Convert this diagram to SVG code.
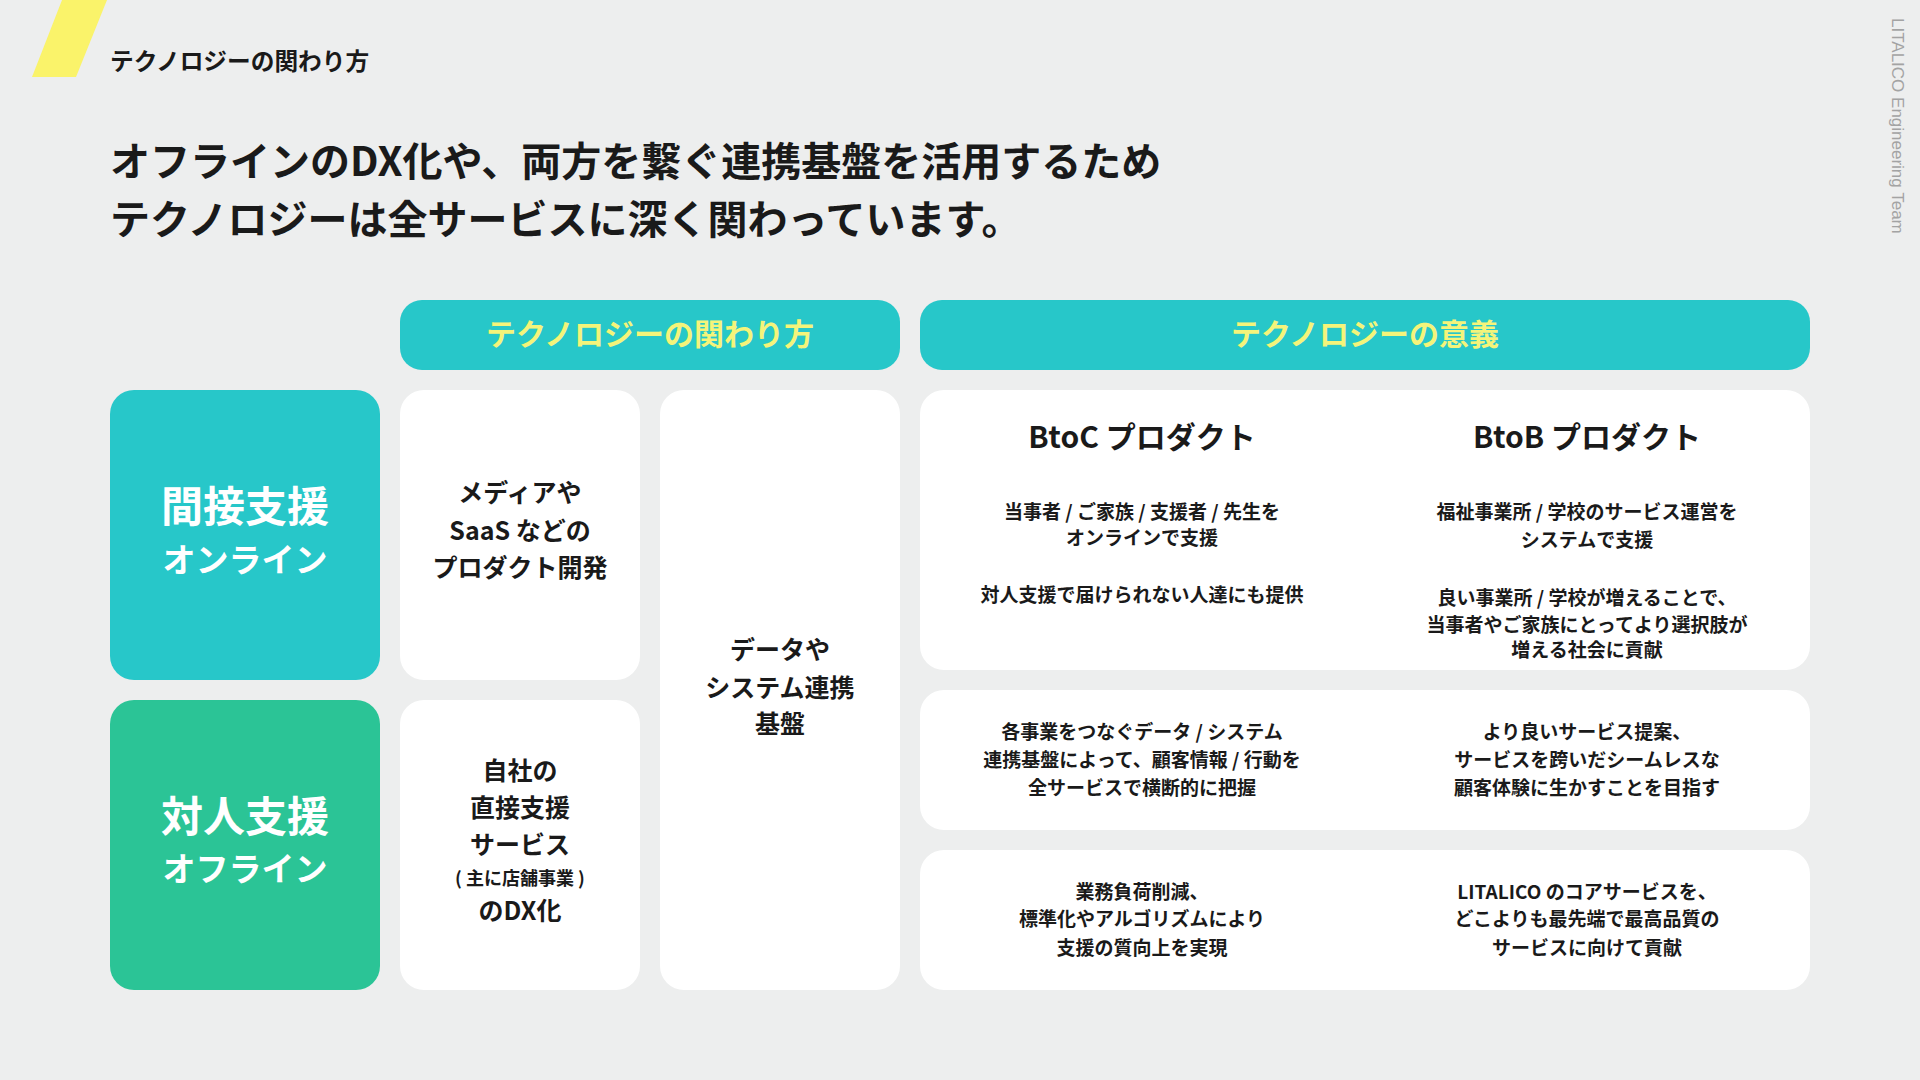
<svg xmlns="http://www.w3.org/2000/svg" width="1920" height="1080" viewBox="0 0 1920 1080">
<style>
text{font-family:"Noto Sans CJK JP","Noto Sans",sans-serif;font-weight:700;fill:#1a1a1a;text-anchor:middle}
.teal{fill:#27C7C9}
.green{fill:#2BC496}
.card{fill:#FFFFFF}
.hdr{fill:#F4F47A;font-size:30px}
.big{fill:#FFFFFF;font-size:42px}
.sub{fill:#FFFFFF;font-size:33px}
.mid{font-size:25px}
.small{font-size:18px}
.body{font-size:19px}
.head{font-size:30px}
</style>
<rect width="1920" height="1080" fill="#EDEEEE"/>
<polygon points="62,0 107,0 76,77 32,77" fill="#FAF36A"/>
<text x="110" y="70" style="font-size:23.7px;text-anchor:start">テクノロジーの関わり方</text>
<text x="110" y="176" style="font-size:40px;text-anchor:start">オフラインのDX化や、両方を繋ぐ連携基盤を活用するため</text>
<text x="110" y="234" style="font-size:40px;text-anchor:start">テクノロジーは全サービスに深く関わっています。</text>
<text transform="translate(1892,18) rotate(90)" style="font-family:'Liberation Sans',Arial,sans-serif;font-weight:400;font-size:17px;fill:#A3A3A3;text-anchor:start">LITALICO Engineering Team</text>

<g id="header-kakawari">
<rect class="teal" x="400" y="300" width="500" height="70" rx="22"/>
<text class="hdr" x="650" y="345">テクノロジーの関わり方</text>
</g>
<g id="header-igi">
<rect class="teal" x="920" y="300" width="890" height="70" rx="22"/>
<text class="hdr" x="1365" y="345">テクノロジーの意義</text>
</g>

<g id="indirect">
<rect class="teal" x="110" y="390" width="270" height="290" rx="24"/>
<text class="big" x="245" y="522">間接支援</text>
<text class="sub" x="245" y="572">オンライン</text>
</g>
<g id="direct">
<rect class="green" x="110" y="700" width="270" height="290" rx="24"/>
<text class="big" x="245" y="832">対人支援</text>
<text class="sub" x="245" y="881">オフライン</text>
</g>

<g id="product-dev">
<rect class="card" x="400" y="390" width="240" height="290" rx="24"/>
<text class="mid" x="520" y="502">メディアや</text>
<text class="mid" x="520" y="540">SaaS などの</text>
<text class="mid" x="520" y="577">プロダクト開発</text>
</g>
<g id="dx">
<rect class="card" x="400" y="700" width="240" height="290" rx="24"/>
<text class="mid" x="520" y="780">自社の</text>
<text class="mid" x="520" y="817">直接支援</text>
<text class="mid" x="520" y="854">サービス</text>
<text class="small" x="520" y="885">( 主に店舗事業 )</text>
<text class="mid" x="520" y="920">のDX化</text>
</g>
<g id="platform">
<rect class="card" x="660" y="390" width="240" height="600" rx="24"/>
<text class="mid" x="780" y="659">データや</text>
<text class="mid" x="780" y="697">システム連携</text>
<text class="mid" x="780" y="733">基盤</text>
</g>

<g id="products">
<rect class="card" x="920" y="390" width="890" height="280" rx="24"/>
<text class="head" x="1142" y="448">BtoC プロダクト</text>
<text class="head" x="1587" y="448">BtoB プロダクト</text>
<text class="body" x="1142" y="519">当事者 / ご家族 / 支援者 / 先生を</text>
<text class="body" x="1142" y="545">オンラインで支援</text>
<text class="body" x="1142" y="602">対人支援で届けられない人達にも提供</text>
<text class="body" x="1587" y="519">福祉事業所 / 学校のサービス運営を</text>
<text class="body" x="1587" y="547">システムで支援</text>
<text class="body" x="1587" y="605">良い事業所 / 学校が増えることで、</text>
<text class="body" x="1587" y="632">当事者やご家族にとってより選択肢が</text>
<text class="body" x="1587" y="657">増える社会に貢献</text>
</g>
<g id="data-meaning">
<rect class="card" x="920" y="690" width="890" height="140" rx="24"/>
<text class="body" x="1142" y="739">各事業をつなぐデータ / システム</text>
<text class="body" x="1142" y="767">連携基盤によって、顧客情報 / 行動を</text>
<text class="body" x="1142" y="795">全サービスで横断的に把握</text>
<text class="body" x="1587" y="739">より良いサービス提案、</text>
<text class="body" x="1587" y="767">サービスを跨いだシームレスな</text>
<text class="body" x="1587" y="795">顧客体験に生かすことを目指す</text>
</g>
<g id="dx-meaning">
<rect class="card" x="920" y="850" width="890" height="140" rx="24"/>
<text class="body" x="1142" y="899">業務負荷削減、</text>
<text class="body" x="1142" y="926">標準化やアルゴリズムにより</text>
<text class="body" x="1142" y="955">支援の質向上を実現</text>
<text class="body" x="1587" y="899">LITALICO のコアサービスを、</text>
<text class="body" x="1587" y="926">どこよりも最先端で最高品質の</text>
<text class="body" x="1587" y="955">サービスに向けて貢献</text>
</g>
<g id="connectors"/>
</svg>
